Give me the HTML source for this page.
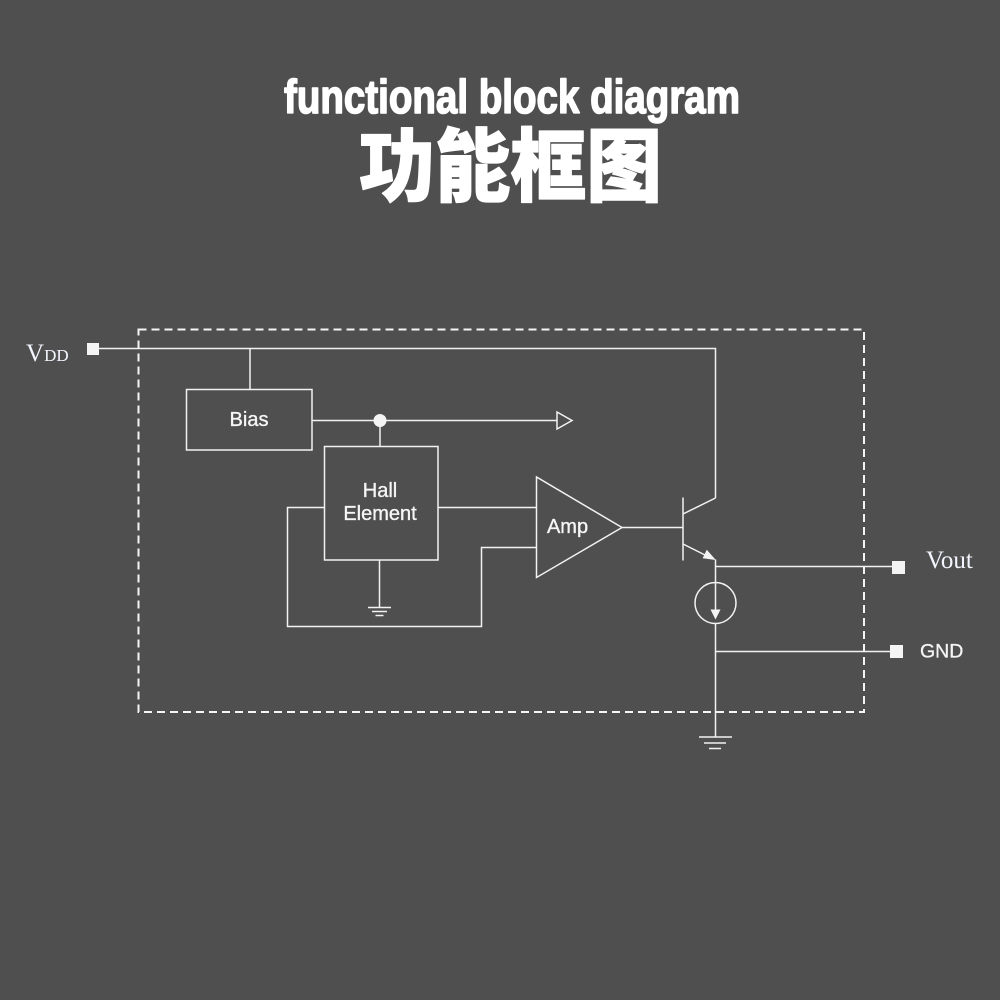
<!DOCTYPE html>
<html>
<head>
<meta charset="utf-8">
<style>
html,body{margin:0;padding:0;background:#4f4f4f;}
svg{display:block;}
</style>
</head>
<body>
<svg width="1000" height="1000" viewBox="0 0 1000 1000" xmlns="http://www.w3.org/2000/svg">
<rect x="0" y="0" width="1000" height="1000" fill="#4f4f4f"/>

<!-- Titles -->
<text x="284" y="113" font-family="'Liberation Sans', sans-serif" font-weight="bold" font-size="47" fill="#ffffff" stroke="#ffffff" stroke-width="1.6" stroke-linejoin="round" textLength="456" lengthAdjust="spacingAndGlyphs">functional block diagram</text>
<text x="359" y="195" font-family="'Liberation Sans','Noto Sans CJK SC', sans-serif" font-weight="900" font-size="80" fill="#ffffff" stroke="#ffffff" stroke-width="1.2" stroke-linejoin="round" textLength="303" lengthAdjust="spacingAndGlyphs">功能框图</text>

<!-- Dashed package outline -->
<rect x="138.5" y="329.5" width="725.5" height="382.5" fill="none" stroke="#f4f4f4" stroke-width="2" stroke-dasharray="8 5"/>

<g stroke="#f2f2f2" stroke-width="1.5" fill="none">
  <!-- VDD rail -->
  <polyline points="99,348.5 715.5,348.5 715.5,498"/>
  <line x1="250" y1="348.5" x2="250" y2="389"/>
  <!-- Bias box -->
  <rect x="186.5" y="389.5" width="125.5" height="60.5"/>
  <!-- bias output -->
  <line x1="312" y1="420.5" x2="557" y2="420.5"/>
  <polygon points="557,412 557,429 572,420.5"/>
  <line x1="380" y1="420.5" x2="380" y2="446"/>
  <!-- Hall box -->
  <rect x="324.5" y="446.5" width="113.5" height="113.5"/>
  <!-- Hall ground -->
  <line x1="379.5" y1="560" x2="379.5" y2="607"/>
  <line x1="368" y1="607.5" x2="391" y2="607.5"/>
  <line x1="372" y1="611.5" x2="387" y2="611.5"/>
  <line x1="375.5" y1="615.5" x2="383.5" y2="615.5"/>
  <!-- feedback loop -->
  <polyline points="324,507.5 287.5,507.5 287.5,626.5 481.5,626.5 481.5,547.5 536.5,547.5"/>
  <line x1="438" y1="507.5" x2="536.5" y2="507.5"/>
  <!-- Amp -->
  <polygon points="536.5,477 536.5,577.5 622,527.5"/>
  <line x1="622" y1="527.5" x2="683" y2="527.5"/>
  <!-- Transistor -->
  <line x1="683" y1="497.5" x2="683" y2="560.5"/>
  <line x1="683" y1="514" x2="715.5" y2="498"/>
  <line x1="683" y1="544" x2="707" y2="556"/>
  <line x1="715.5" y1="559.5" x2="715.5" y2="582.5"/>
  <!-- Vout -->
  <line x1="715.5" y1="566.5" x2="892" y2="566.5"/>
  <!-- current source -->
  <circle cx="715.5" cy="603" r="20.5"/>
  <line x1="715.5" y1="582.5" x2="715.5" y2="611"/>
  <line x1="715.5" y1="623.5" x2="715.5" y2="737"/>
  <!-- GND -->
  <line x1="715.5" y1="651.5" x2="890" y2="651.5"/>
  <line x1="699" y1="737" x2="732" y2="737"/>
  <line x1="704" y1="743" x2="726" y2="743"/>
  <line x1="709" y1="748.5" x2="721" y2="748.5"/>
</g>

<g fill="#f4f4f4" stroke="none">
  <rect x="87" y="343" width="12" height="12"/>
  <circle cx="380" cy="420.5" r="6.5"/>
  <polygon points="715.8,560 702.6,558.2 706.8,549.8"/>
  <polygon points="710.5,609.5 720.5,609.5 715.5,619.5"/>
  <rect x="892" y="561" width="13" height="13"/>
  <rect x="890" y="645" width="13" height="13"/>
</g>

<!-- labels -->
<g font-family="'Liberation Sans', sans-serif" font-size="20" fill="#f6f6f6" stroke="#f6f6f6" stroke-width="0.35" text-anchor="middle">
  <text x="249" y="426">Bias</text>
  <text x="380" y="497">Hall</text>
  <text x="380" y="520">Element</text>
  <text x="567.5" y="533">Amp</text>
</g>
<text x="26" y="361" font-family="'Liberation Serif', serif" fill="#f4f6ff"><tspan font-size="25">V</tspan><tspan font-size="17">DD</tspan></text>
<text x="926" y="568" font-family="'Liberation Serif', serif" font-size="25" fill="#f4f6ff">Vout</text>
<text x="920" y="657.5" font-family="'Liberation Sans', sans-serif" font-size="19.5" fill="#f4f4f4" stroke="#f4f4f4" stroke-width="0.3">GND</text>
</svg>
</body>
</html>
